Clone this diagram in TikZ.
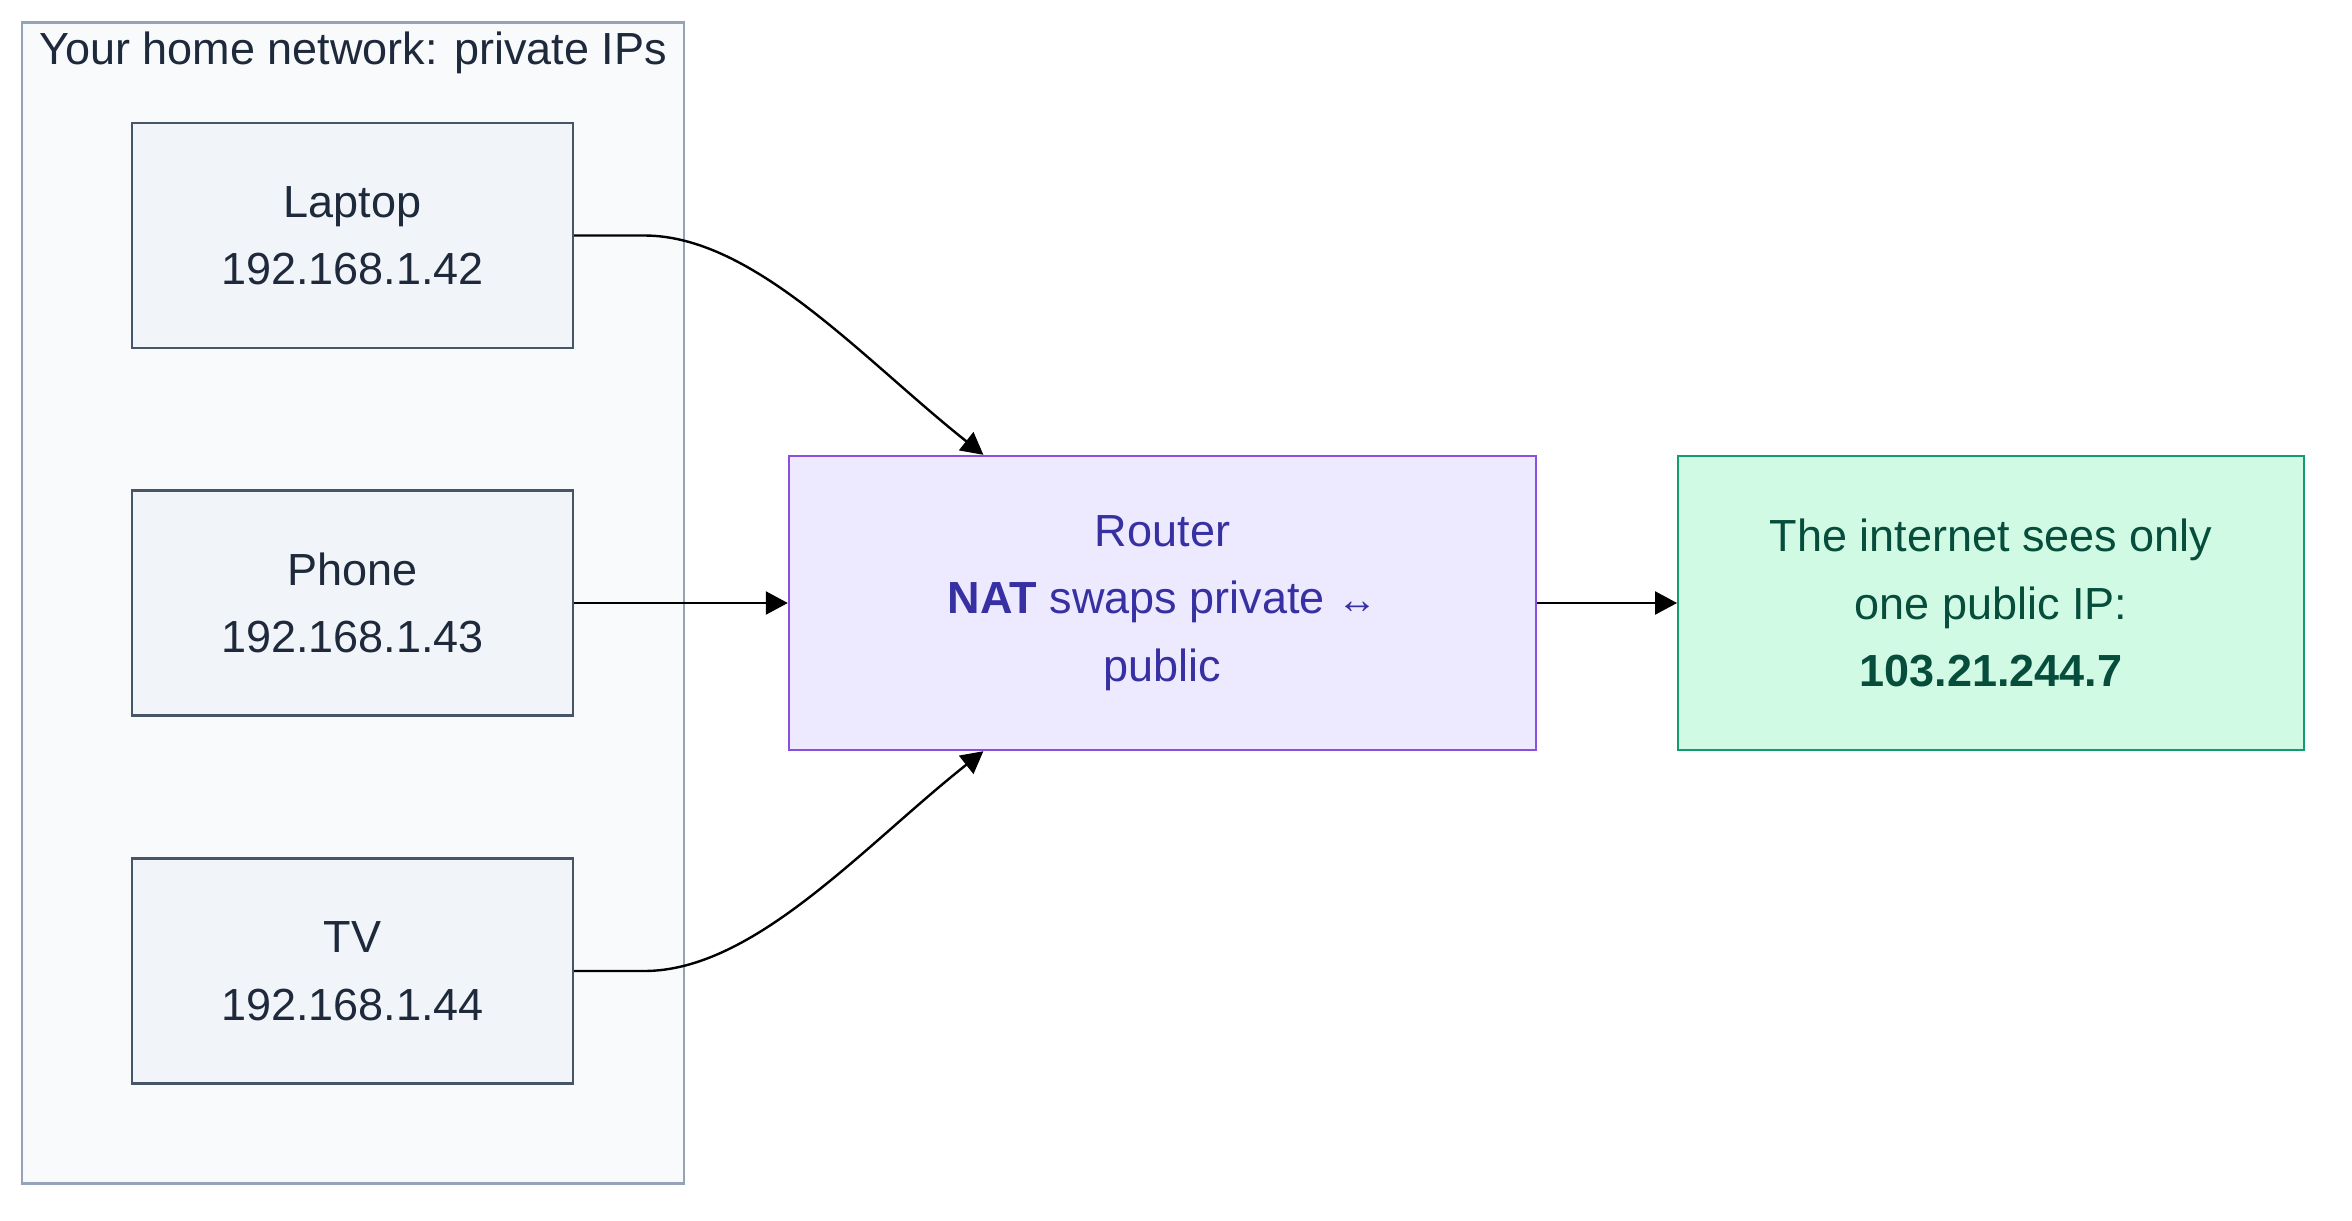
\documentclass[tikz,border=0pt]{standalone}
\usepackage{fontspec}
\setmainfont{Liberation Sans}
\usetikzlibrary{arrows.meta,calc}

\definecolor{homefill}{HTML}{F8FAFC}
\definecolor{homeline}{HTML}{94A3B8}
\definecolor{devfill}{HTML}{F1F5F9}
\definecolor{devline}{HTML}{475569}
\definecolor{devtext}{HTML}{1E293B}
\definecolor{natfill}{HTML}{EDE9FE}
\definecolor{natline}{HTML}{8B4FE0}
\definecolor{nattext}{HTML}{3730A3}
\definecolor{netfill}{HTML}{D1FAE5}
\definecolor{netline}{HTML}{169B6E}
\definecolor{nettext}{HTML}{064E3B}

\begin{document}
\begin{tikzpicture}[
    x=0.5pt, y=-0.5pt,
    font=\fontsize{22.5}{33.75}\selectfont,
    cluster/.style={
        rectangle, draw=homeline, fill=homefill, line width=1.2pt,
        minimum width=330.75pt, minimum height=580.5pt, inner sep=0pt
    },
    device/.style={
        rectangle, draw=devline, fill=devfill, text=devtext, line width=1.2pt,
        align=center, minimum width=220.5pt, minimum height=112.5pt, inner sep=0pt
    },
    natbox/.style={
        rectangle, draw=natline, fill=natfill, text=nattext, line width=1.2pt,
        align=center, minimum width=373.5pt, minimum height=147pt, inner sep=0pt
    },
    netbox/.style={
        rectangle, draw=netline, fill=netfill, text=nettext, line width=1.2pt,
        align=center, minimum width=312.75pt, minimum height=147pt, inner sep=0pt
    },
    conn/.style={-{Triangle[length=11pt,width=11.5pt]}, line width=1.2pt},
]
    \useasboundingbox (0,0) rectangle (2352,1221);

    % Column x-coordinates.
    \def\xHome{353}
    \def\xRouter{1162.5}
    \def\xNet{1991}

    % Row y-coordinates (pixels, downwards).
    \def\yLaptop{235.5}
    \def\yPhone{603}
    \def\yTV{971}

    % ---------- Home network (left column) ----------
    \node[cluster] (home) at (\xHome, 603) {};
    \node[text=devtext] (hometitle) at (\xHome, 53) {Your home network: private IPs};

    \node[device] (laptop) at (352.5, \yLaptop) {Laptop\\192.168.1.42};
    \node[device] (phone) at (352.5, \yPhone) {Phone\\192.168.1.43};
    \node[device] (tv) at (352.5, \yTV) {TV\\192.168.1.44};

    % ---------- Router and internet ----------
    \node[natbox] (router) at (\xRouter, \yPhone)
        {Router\\\textbf{NAT} swaps private {\fontsize{20}{20}\selectfont ↔}\\public};
    \node[netbox] (internet) at (\xNet, \yPhone)
        {The internet sees only\\one public IP:\\\textbf{103.21.244.7}};

    % ---------- Connectors ----------
    \draw[conn] (laptop.east) -- ++(70,0) .. controls +(110,0) and +(-120,-95) ..
        ($(router.north west)!0.261!(router.north east)$);
    \draw[conn] (phone.east) -- (router.west);
    \draw[conn] (tv.east) -- ++(70,0) .. controls +(110,0) and +(-120,95) ..
        ($(router.south west)!0.261!(router.south east)$);
    \draw[conn] (router.east) -- (internet.west);

\end{tikzpicture}
\end{document}
